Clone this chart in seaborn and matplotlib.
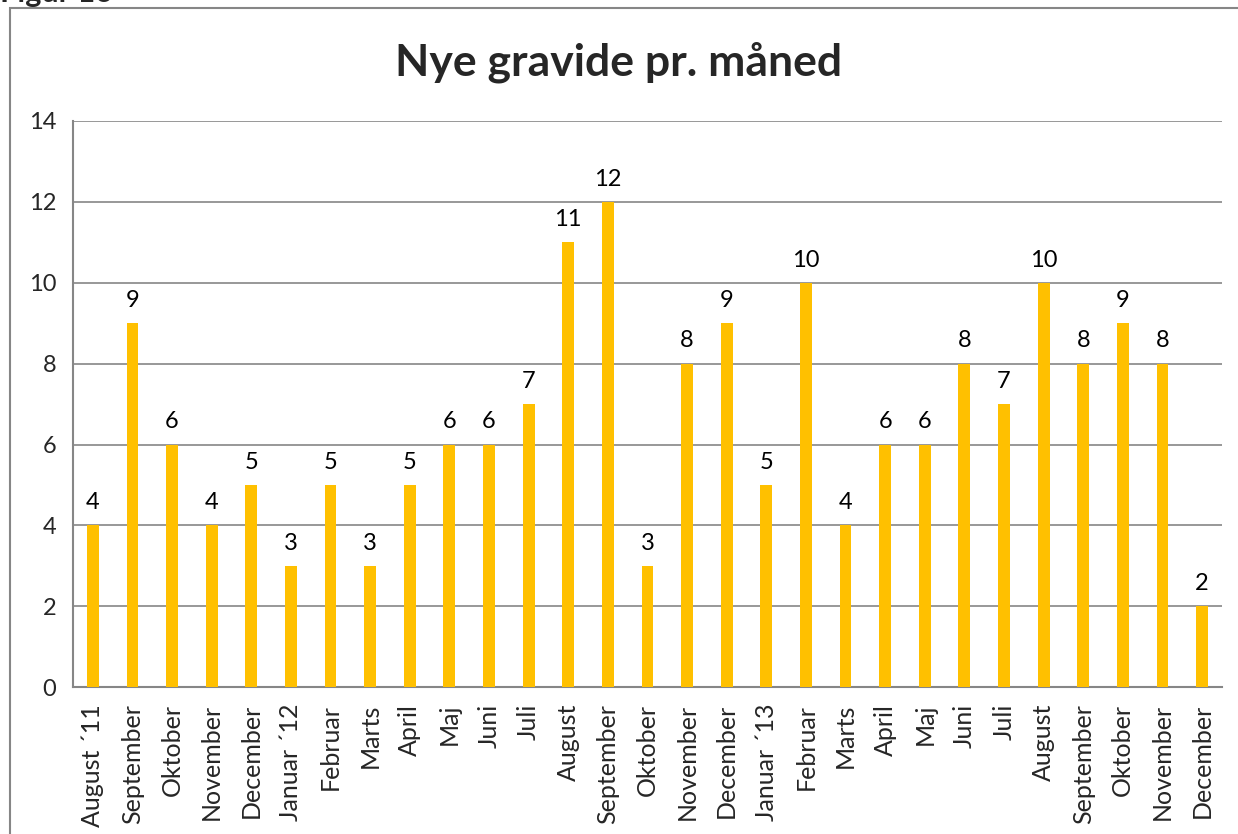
import numpy as np
import pandas as pd
import matplotlib
matplotlib.use("Agg")
import matplotlib.pyplot as plt
import seaborn as sns
from matplotlib.patches import Rectangle

# data
periods = ["2011-08", "2011-09", "2011-10", "2011-11", "2011-12",
           "2012-01", "2012-02", "2012-03", "2012-04", "2012-05", "2012-06",
           "2012-07", "2012-08", "2012-09", "2012-10", "2012-11", "2012-12",
           "2013-01", "2013-02", "2013-03", "2013-04", "2013-05", "2013-06",
           "2013-07", "2013-08", "2013-09", "2013-10", "2013-11", "2013-12"]
month_labels = ["August \u00b411", "September", "Oktober", "November", "December",
                "Januar \u00b412", "Februar", "Marts", "April", "Maj", "Juni",
                "Juli", "August", "September", "Oktober", "November", "December",
                "Januar \u00b413", "Februar", "Marts", "April", "Maj", "Juni",
                "Juli", "August", "September", "Oktober", "November", "December"]
counts = [4, 9, 6, 4, 5, 3, 5, 3, 5, 6, 6, 7, 11, 12, 3, 8, 9, 5, 10, 4,
          6, 6, 8, 7, 10, 8, 9, 8, 2]

df = pd.DataFrame({"periode": periods, "antal": counts})

sns.set_theme(style="white")
plt.rcParams["font.family"] = ["Lato", "DejaVu Sans"]

fig = plt.figure(figsize=(12.38, 8.34), dpi=100)
ax = fig.add_axes([0.059, 0.176, 0.928, 0.679])

sns.barplot(data=df, x="periode", y="antal", order=periods, color="#FFC000",
            saturation=1, width=0.3, linewidth=0, ax=ax, zorder=3)

# value labels
for i, v in enumerate(counts):
    ax.text(i, v + 0.3, str(v), ha="center", va="bottom", fontsize=17, color="black")

ax.set_ylim(0, 14)
ax.set_yticks(range(0, 15, 2))
ax.set_xlim(-0.5, len(periods) - 0.5)
ax.set_xticks(range(len(periods)))
ax.set_xticklabels(month_labels, rotation=90, fontsize=18)
ax.set_xticks(np.arange(-0.5, len(periods), 1), minor=True)
ax.tick_params(axis="x", which="major", length=0, pad=12)
ax.tick_params(axis="x", which="minor", length=8, width=1.5, color="#868686")
ax.tick_params(axis="y", length=6, width=1.5, color="#868686", labelsize=17, pad=6)
ax.set_xlabel("")
ax.set_ylabel("")

ax.yaxis.grid(True, color="#868686", linewidth=1.2, zorder=0)
ax.xaxis.grid(False)
for side in ["top", "right"]:
    ax.spines[side].set_visible(False)
for side in ["left", "bottom"]:
    ax.spines[side].set_color("#868686")
    ax.spines[side].set_linewidth(1.5)

fig.text(0.5, 0.925, "Nye gravide pr. m\u00e5ned", ha="center", va="center",
         fontsize=32, fontweight="bold")

# frame around chart area and clipped caption
fig.patches.append(Rectangle((0.008, -0.01), 1.0, 1.0,
                             transform=fig.transFigure, fill=False,
                             edgecolor="#868686", linewidth=1.5))
fig.text(0.0, 1 - 2 / 834, "Figur 16", ha="left", va="baseline", fontsize=22,
         fontweight="bold")

fig.savefig("out.png", dpi=100)
